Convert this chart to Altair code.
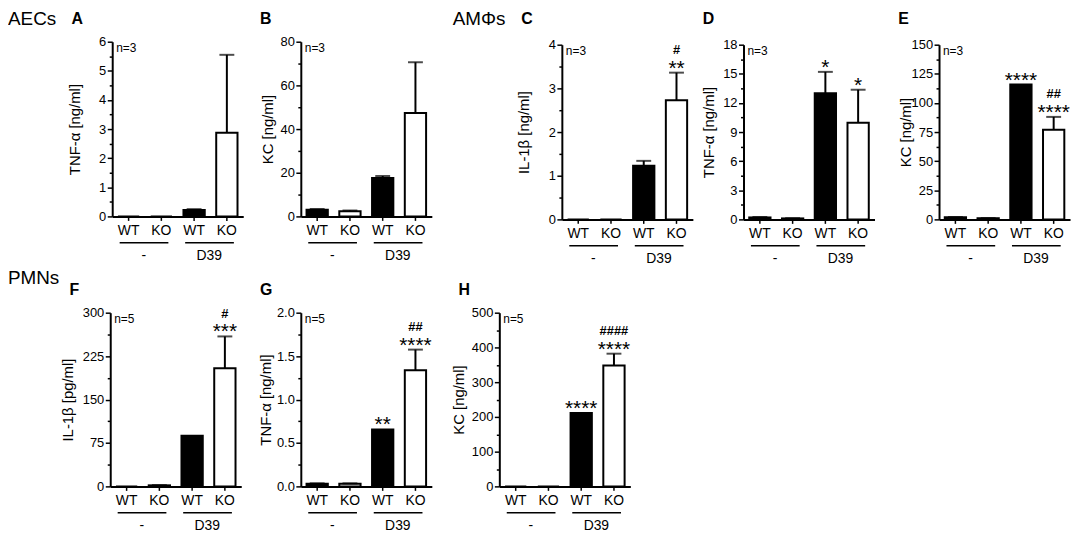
import altair as alt
import pandas as pd

# ---------------- data ----------------
CATS = ["WT|-", "KO|-", "WT|D39", "KO|D39"]
GENO = ["WT", "KO", "WT", "KO"]
GROUP_START = ["WT|-", "WT|D39"]
GROUP_END = ["KO|-", "KO|D39"]
GROUP_LABELS = ["-", "D39"]

A_val = [0.0, 0.0, 0.22, 2.87]
A_err = [0.0, 0.0, 0.25, 5.55]
A_star = ["", "", "", ""]
A_hash = ["", "", "", ""]

B_val = [3.0, 2.4, 17.6, 47.4]
B_err = [3.4, 2.7, 18.5, 70.6]
B_star = ["", "", "", ""]
B_hash = ["", "", "", ""]

C_val = [0.0, 0.0, 1.23, 2.73]
C_err = [0.0, 0.0, 1.34, 3.36]
C_star = ["", "", "", "**"]
C_hash = ["", "", "", "#"]

D_val = [0.2, 0.1, 13.0, 9.95]
D_err = [0.25, 0.12, 15.2, 13.36]
D_star = ["", "", "*", "*"]
D_hash = ["", "", "", ""]

E_val = [1.8, 1.0, 115.8, 77.0]
E_err = [2.0, 1.1, 115.8, 88.0]
E_star = ["", "", "****", "****"]
E_hash = ["", "", "", "##"]

F_val = [0.0, 1.8, 87.4, 204.0]
F_err = [0.0, 2.2, 87.4, 259.0]
F_star = ["", "", "", "***"]
F_hash = ["", "", "", "#"]

G_val = [0.03, 0.03, 0.656, 1.336]
G_err = [0.035, 0.035, 0.656, 1.575]
G_star = ["", "", "**", "****"]
G_hash = ["", "", "", "##"]

H_val = [0.0, 0.0, 211.6, 348.0]
H_err = [0.0, 0.0, 211.6, 382.0]
H_star = ["", "", "****", "****"]
H_hash = ["", "", "", "####"]

# ---------------- layout (page pixel coordinates) ----------------
FONT = "Liberation Sans"
W_VIEW, H_VIEW = 1076, 525
OX, OY = 8, 8
PW = 132

PANELS = [
    dict(letter="A", x0=113, top=40, bottom=216, ymax=6, major=1, fmt="d",
         title="TNF-α [ng/ml]", text_ext=30, n="n=3", lety=22,
         data=(A_val, A_err, A_star, A_hash), row=("AECs", 8, 23)),
    dict(letter="B", x0=303, top=40, bottom=216, ymax=80, major=20, fmt="d",
         title="KC [ng/ml]", text_ext=26, n="n=3", lety=22,
         data=(B_val, B_err, B_star, B_hash), row=None),
    dict(letter="C", x0=566, top=43, bottom=219, ymax=4, major=1, fmt="d",
         title="IL-1β [ng/ml]", text_ext=31, n="n=3", lety=22,
         data=(C_val, C_err, C_star, C_hash), row=("AMΦs", 456, 23)),
    dict(letter="D", x0=749, top=43, bottom=219, ymax=18, major=3, fmt="d",
         title="TNF-α [ng/ml]", text_ext=27, n="n=3", lety=22,
         data=(D_val, D_err, D_star, D_hash), row=None),
    dict(letter="E", x0=946, top=43, bottom=219, ymax=150, major=25, fmt="d",
         title="KC [ng/ml]", text_ext=26, n="n=3", lety=22,
         data=(E_val, E_err, E_star, E_hash), row=None),
    dict(letter="F", x0=111, top=313, bottom=488, ymax=300, major=75, fmt="d",
         title="IL-1β [pg/ml]", text_ext=35, n="n=5", lety=295,
         data=(F_val, F_err, F_star, F_hash), row=("PMNs", 8, 284)),
    dict(letter="G", x0=303, top=313, bottom=488, ymax=2, major=0.5, fmt=".1f",
         title="TNF-α [ng/ml]", text_ext=28, n="n=5", lety=295,
         data=(G_val, G_err, G_star, G_hash), row=None),
    dict(letter="H", x0=503, top=313, bottom=488, ymax=500, major=100, fmt="d",
         title="KC [ng/ml]", text_ext=33, n="n=5", lety=295,
         data=(H_val, H_err, H_star, H_hash), row=None),
]


def label_chart(text, x, y, size, weight="normal", align="left", baseline="alphabetic"):
    return alt.Chart(pd.DataFrame({"t": [text]})).mark_text(
        font=FONT, fontSize=size, fontWeight=weight, align=align,
        baseline=baseline, color="black"
    ).encode(x=alt.value(x), y=alt.value(y), text="t:N")


def panel(p):
    x0 = p["x0"] - OX
    top = p["top"] - OY
    bot = p["bottom"] - OY
    val, err, star, hsh = p["data"]
    df = pd.DataFrame({"cat": CATS, "geno": GENO, "val": val, "err": err,
                       "star": star, "hash": hsh})
    df["anchor"] = df[["val", "err"]].max(axis=1)

    xscale = alt.Scale(type="band", domain=CATS, range=[x0, x0 + PW],
                       paddingInner=0.35, paddingOuter=0.175)
    xaxis = alt.Axis(orient="bottom", offset=bot - H_VIEW, title=None,
                     labelExpr="split(datum.value, '|')[0]", labelAngle=0,
                     labelFontSize=14, labelPadding=3, labelBaseline="top",
                     tickSize=4, tickWidth=1.5, domainWidth=2, grid=False)

    M = p["major"]
    m = M / 2.0
    nt = int(round(p["ymax"] / m))
    vals = [round(i * m, 6) for i in range(nt + 1)]
    test = f"abs(datum.value / {M} - round(datum.value / {M})) < 0.000001"
    yscale = alt.Scale(domain=[0, p["ymax"]], range=[bot, top], nice=False, zero=True)
    yaxis = alt.Axis(orient="left", offset=-x0, values=vals,
                     labelExpr=f"{test} ? format(datum.value, '{p['fmt']}') : ''",
                     tickSize={"condition": {"test": test, "value": 5}, "value": 3},
                     labelFontSize=13, labelPadding=1.5, labelOverlap=False,
                     tickWidth=1.5, domainWidth=2, grid=False,
                     title=p["title"], titleFontSize=15, titleFontWeight="normal",
                     titlePadding=0, minExtent=p["text_ext"], maxExtent=p["text_ext"])

    def X(f, **kw):
        return alt.X(f, type="nominal", scale=xscale, axis=xaxis, **kw)

    def Y(f):
        return alt.Y(f, type="quantitative", scale=yscale, axis=yaxis)

    base = alt.Chart(df)
    bars = base.mark_bar(stroke="black", strokeWidth=2).encode(
        x=X("cat"), y=Y("val"),
        fill=alt.Fill("geno:N", scale=alt.Scale(domain=["WT", "KO"], range=["black", "white"]),
                      legend=None))
    ebar = base.transform_filter("datum.err > datum.val").mark_rule(
        strokeWidth=2, color="black").encode(x=X("cat"), y=Y("val"), y2=alt.Y2("err"))
    ecap = base.transform_filter("datum.err > datum.val").mark_tick(
        orient="horizontal", size=15, thickness=2, color="black").encode(x=X("cat"), y=Y("err"))
    stars = base.transform_filter("datum.star != ''").mark_text(
        font=FONT, fontSize=21, dy=2, baseline="alphabetic", color="black").encode(
        x=X("cat"), y=Y("anchor"), text="star:N")
    hashes = base.transform_filter("datum.hash != ''").mark_text(
        font=FONT, fontSize=13, fontWeight="bold", dy=-19, baseline="alphabetic",
        color="black").encode(
        x=X("cat"), y=Y("anchor"), text="hash:N")

    gdf = pd.DataFrame({"start": GROUP_START, "end": GROUP_END, "label": GROUP_LABELS})
    gbase = alt.Chart(gdf)
    uline = gbase.mark_rule(strokeWidth=1.5, color="black").encode(
        x=X("start", bandPosition=0.08), x2=alt.X2("end", bandPosition=0.83),
        y=alt.value(bot + 26.5))
    gtext = gbase.mark_text(font=FONT, fontSize=14, dx=-7, baseline="alphabetic",
                            color="black").encode(
        x=X("end", bandPosition=0), y=alt.value(bot + 43.5), text="label:N")

    layers = [bars, ebar, ecap, stars, hashes, uline, gtext,
              label_chart(p["n"], x0 + 4, top + 1, 12, baseline="top"),
              label_chart(p["letter"], p["x0"] - 41 - OX, p["lety"] - OY, 16, weight="bold")]
    if p["row"] is not None:
        txt, rx, ry = p["row"]
        layers.append(label_chart(txt, rx - OX, ry - OY, 19))
    return alt.layer(*layers)


chart = alt.layer(*[panel(p) for p in PANELS]).resolve_scale(
    x="independent", y="independent"
).properties(
    width=W_VIEW, height=H_VIEW, padding=0
).configure_view(stroke=None).configure_axis(
    labelFont=FONT, titleFont=FONT, labelColor="black", titleColor="black",
    domainColor="black", tickColor="black"
)

chart.save("out.html", embed_options={"renderer": "svg", "actions": False})
